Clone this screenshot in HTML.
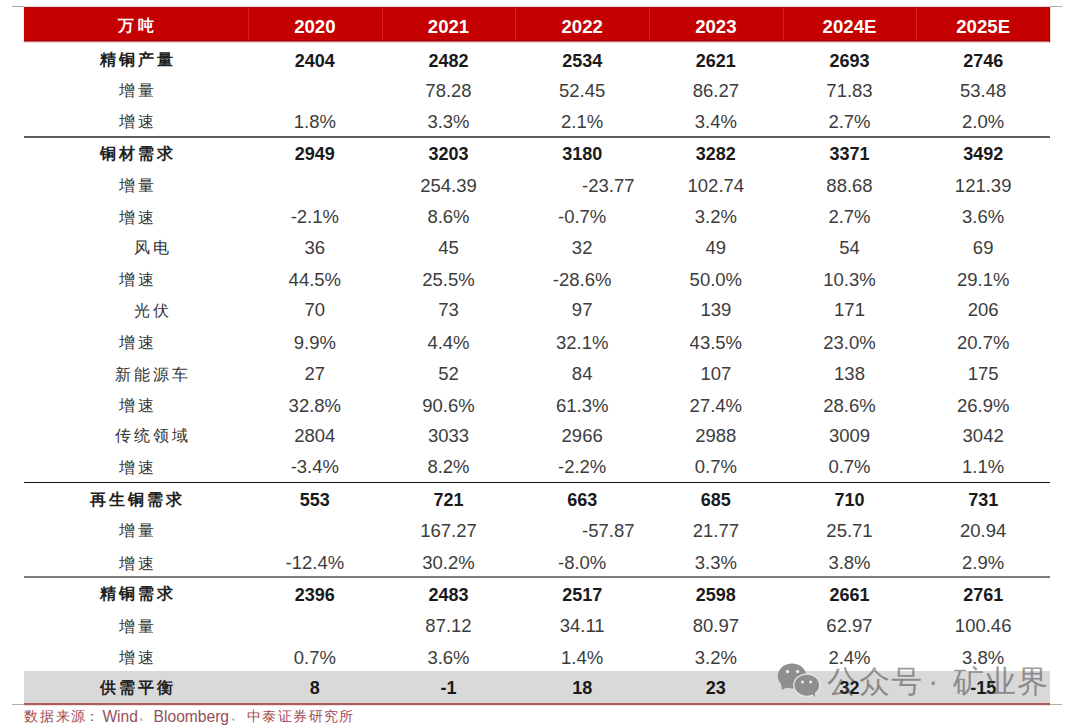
<!DOCTYPE html>
<html><head><meta charset="utf-8"><style>
html,body{margin:0;padding:0;background:#fff;width:1080px;height:725px;overflow:hidden;position:relative}
.t{position:absolute;font-family:"Liberation Sans",sans-serif;white-space:nowrap;line-height:24px;height:24px}
.hn{color:#fff;font-weight:bold;font-size:18.6px}
.hc{color:#fff;font-weight:bold;font-size:16px;letter-spacing:4px}
.nb{color:#1a1a1a;font-weight:bold;font-size:18px}
.nr{color:#3c3c3c;font-size:18.5px}
.cb{color:#222;font-weight:bold;font-size:16px;letter-spacing:3px}
.cr{color:#333;font-size:16px;letter-spacing:3px}
.fnc{color:#a04a52;font-size:14px;letter-spacing:1.8px;line-height:20px;height:20px}
.fnc2{color:#a04a52;font-size:14px;letter-spacing:1.4px;line-height:20px;height:20px}
.fnl{color:#94505a;font-size:15.6px;line-height:20px;height:20px}
.wmt{color:rgba(60,60,60,0.5);font-size:31px;font-weight:300;letter-spacing:1px;line-height:36px;height:36px}
</style></head><body>
<div style="position:absolute;left:12px;top:6px;width:12px;height:1px;background:#a8a8a8;"></div>
<div style="position:absolute;left:1050px;top:6px;width:12px;height:1px;background:#a8a8a8;"></div>
<div style="position:absolute;left:24px;top:6px;width:1026px;height:1px;background:#f0dada;"></div>
<div style="position:absolute;left:24px;top:7px;width:1026px;height:35px;background:#c40000;"></div>
<div style="position:absolute;left:24px;top:7px;width:1026px;height:1px;background:#a8101a;"></div>
<div style="position:absolute;left:24px;top:40px;width:1026px;height:1px;background:#a80008;"></div>
<div style="position:absolute;left:24px;top:41px;width:1026px;height:1px;background:#c86060;"></div>
<div style="position:absolute;left:24px;top:42px;width:1026px;height:1px;background:#f5dcdc;"></div>
<div style="position:absolute;left:1049px;top:7px;width:1px;height:35px;background:#a8000a;"></div>
<div style="position:absolute;left:1050px;top:7px;width:1px;height:36px;background:#f3d6d6;"></div>
<div style="position:absolute;left:23px;top:7px;width:1px;height:36px;background:#f8e6e6;"></div>
<div style="position:absolute;left:248px;top:8px;width:1px;height:32px;background:#e01c1c;"></div>
<div style="position:absolute;left:382px;top:8px;width:1px;height:32px;background:#e01c1c;"></div>
<div style="position:absolute;left:515px;top:8px;width:1px;height:32px;background:#e01c1c;"></div>
<div style="position:absolute;left:649px;top:8px;width:1px;height:32px;background:#e01c1c;"></div>
<div style="position:absolute;left:783px;top:8px;width:1px;height:32px;background:#e01c1c;"></div>
<div style="position:absolute;left:916px;top:8px;width:1px;height:32px;background:#e01c1c;"></div>
<div style="position:absolute;left:24px;top:671px;width:1026px;height:31px;background:#d9d9d9;"></div>
<div style="position:absolute;left:24px;top:702px;width:1026px;height:1px;background:#e6d0d0;"></div>
<div style="position:absolute;left:24px;top:136px;width:1026px;height:2px;background:#5e5e5e;"></div>
<div style="position:absolute;left:24px;top:482px;width:1026px;height:1px;background:#111;"></div>
<div style="position:absolute;left:24px;top:576px;width:1026px;height:2px;background:#7a7a7a;"></div>
<div style="position:absolute;left:12px;top:704px;width:1050px;height:1px;background:#b0b0b0;"></div>
<div style="position:absolute;left:24px;top:703px;width:1026px;height:2px;background:#a85e5e;"></div>
<div style="position:absolute;left:24px;top:705px;width:1026px;height:1px;background:#f3dcdc;"></div>
<div class="t hc" style="left:37.50px;top:13.50px;width:200px;text-align:center">万吨</div>
<div class="t hn" style="left:214.84px;top:14.50px;width:200px;text-align:center">2020</div>
<div class="t hn" style="left:348.50px;top:14.50px;width:200px;text-align:center">2021</div>
<div class="t hn" style="left:482.16px;top:14.50px;width:200px;text-align:center">2022</div>
<div class="t hn" style="left:615.84px;top:14.50px;width:200px;text-align:center">2023</div>
<div class="t hn" style="left:749.50px;top:14.50px;width:200px;text-align:center">2024E</div>
<div class="t hn" style="left:883.16px;top:14.50px;width:200px;text-align:center">2025E</div>
<div class="t cb" style="left:37.50px;top:48.00px;width:200px;text-align:center">精铜产量</div>
<div class="t nb" style="left:214.84px;top:48.50px;width:200px;text-align:center">2404</div>
<div class="t nb" style="left:348.50px;top:48.50px;width:200px;text-align:center">2482</div>
<div class="t nb" style="left:482.16px;top:48.50px;width:200px;text-align:center">2534</div>
<div class="t nb" style="left:615.84px;top:48.50px;width:200px;text-align:center">2621</div>
<div class="t nb" style="left:749.50px;top:48.50px;width:200px;text-align:center">2693</div>
<div class="t nb" style="left:883.16px;top:48.50px;width:200px;text-align:center">2746</div>
<div class="t cr" style="left:37.50px;top:79.00px;width:200px;text-align:center">增量</div>
<div class="t nr" style="left:348.50px;top:78.50px;width:200px;text-align:center">78.28</div>
<div class="t nr" style="left:482.16px;top:78.50px;width:200px;text-align:center">52.45</div>
<div class="t nr" style="left:615.84px;top:78.50px;width:200px;text-align:center">86.27</div>
<div class="t nr" style="left:749.50px;top:78.50px;width:200px;text-align:center">71.83</div>
<div class="t nr" style="left:883.16px;top:78.50px;width:200px;text-align:center">53.48</div>
<div class="t cr" style="left:37.50px;top:110.40px;width:200px;text-align:center">增速</div>
<div class="t nr" style="left:214.84px;top:109.90px;width:200px;text-align:center">1.8%</div>
<div class="t nr" style="left:348.50px;top:109.90px;width:200px;text-align:center">3.3%</div>
<div class="t nr" style="left:482.16px;top:109.90px;width:200px;text-align:center">2.1%</div>
<div class="t nr" style="left:615.84px;top:109.90px;width:200px;text-align:center">3.4%</div>
<div class="t nr" style="left:749.50px;top:109.90px;width:200px;text-align:center">2.7%</div>
<div class="t nr" style="left:883.16px;top:109.90px;width:200px;text-align:center">2.0%</div>
<div class="t cb" style="left:37.50px;top:141.60px;width:200px;text-align:center">铜材需求</div>
<div class="t nb" style="left:214.84px;top:142.10px;width:200px;text-align:center">2949</div>
<div class="t nb" style="left:348.50px;top:142.10px;width:200px;text-align:center">3203</div>
<div class="t nb" style="left:482.16px;top:142.10px;width:200px;text-align:center">3180</div>
<div class="t nb" style="left:615.84px;top:142.10px;width:200px;text-align:center">3282</div>
<div class="t nb" style="left:749.50px;top:142.10px;width:200px;text-align:center">3371</div>
<div class="t nb" style="left:883.16px;top:142.10px;width:200px;text-align:center">3492</div>
<div class="t cr" style="left:37.50px;top:174.10px;width:200px;text-align:center">增量</div>
<div class="t nr" style="left:348.50px;top:173.60px;width:200px;text-align:center">254.39</div>
<div class="t nr" style="left:582.00px;top:173.60px;">-23.77</div>
<div class="t nr" style="left:615.84px;top:173.60px;width:200px;text-align:center">102.74</div>
<div class="t nr" style="left:749.50px;top:173.60px;width:200px;text-align:center">88.68</div>
<div class="t nr" style="left:883.16px;top:173.60px;width:200px;text-align:center">121.39</div>
<div class="t cr" style="left:37.50px;top:205.60px;width:200px;text-align:center">增速</div>
<div class="t nr" style="left:214.84px;top:205.10px;width:200px;text-align:center">-2.1%</div>
<div class="t nr" style="left:348.50px;top:205.10px;width:200px;text-align:center">8.6%</div>
<div class="t nr" style="left:482.16px;top:205.10px;width:200px;text-align:center">-0.7%</div>
<div class="t nr" style="left:615.84px;top:205.10px;width:200px;text-align:center">3.2%</div>
<div class="t nr" style="left:749.50px;top:205.10px;width:200px;text-align:center">2.7%</div>
<div class="t nr" style="left:883.16px;top:205.10px;width:200px;text-align:center">3.6%</div>
<div class="t cr" style="left:52.50px;top:236.30px;width:200px;text-align:center">风电</div>
<div class="t nr" style="left:214.84px;top:235.80px;width:200px;text-align:center">36</div>
<div class="t nr" style="left:348.50px;top:235.80px;width:200px;text-align:center">45</div>
<div class="t nr" style="left:482.16px;top:235.80px;width:200px;text-align:center">32</div>
<div class="t nr" style="left:615.84px;top:235.80px;width:200px;text-align:center">49</div>
<div class="t nr" style="left:749.50px;top:235.80px;width:200px;text-align:center">54</div>
<div class="t nr" style="left:883.16px;top:235.80px;width:200px;text-align:center">69</div>
<div class="t cr" style="left:37.50px;top:268.00px;width:200px;text-align:center">增速</div>
<div class="t nr" style="left:214.84px;top:267.50px;width:200px;text-align:center">44.5%</div>
<div class="t nr" style="left:348.50px;top:267.50px;width:200px;text-align:center">25.5%</div>
<div class="t nr" style="left:482.16px;top:267.50px;width:200px;text-align:center">-28.6%</div>
<div class="t nr" style="left:615.84px;top:267.50px;width:200px;text-align:center">50.0%</div>
<div class="t nr" style="left:749.50px;top:267.50px;width:200px;text-align:center">10.3%</div>
<div class="t nr" style="left:883.16px;top:267.50px;width:200px;text-align:center">29.1%</div>
<div class="t cr" style="left:52.50px;top:298.80px;width:200px;text-align:center">光伏</div>
<div class="t nr" style="left:214.84px;top:298.30px;width:200px;text-align:center">70</div>
<div class="t nr" style="left:348.50px;top:298.30px;width:200px;text-align:center">73</div>
<div class="t nr" style="left:482.16px;top:298.30px;width:200px;text-align:center">97</div>
<div class="t nr" style="left:615.84px;top:298.30px;width:200px;text-align:center">139</div>
<div class="t nr" style="left:749.50px;top:298.30px;width:200px;text-align:center">171</div>
<div class="t nr" style="left:883.16px;top:298.30px;width:200px;text-align:center">206</div>
<div class="t cr" style="left:37.50px;top:331.30px;width:200px;text-align:center">增速</div>
<div class="t nr" style="left:214.84px;top:330.80px;width:200px;text-align:center">9.9%</div>
<div class="t nr" style="left:348.50px;top:330.80px;width:200px;text-align:center">4.4%</div>
<div class="t nr" style="left:482.16px;top:330.80px;width:200px;text-align:center">32.1%</div>
<div class="t nr" style="left:615.84px;top:330.80px;width:200px;text-align:center">43.5%</div>
<div class="t nr" style="left:749.50px;top:330.80px;width:200px;text-align:center">23.0%</div>
<div class="t nr" style="left:883.16px;top:330.80px;width:200px;text-align:center">20.7%</div>
<div class="t cr" style="left:52.50px;top:362.50px;width:200px;text-align:center">新能源车</div>
<div class="t nr" style="left:214.84px;top:362.00px;width:200px;text-align:center">27</div>
<div class="t nr" style="left:348.50px;top:362.00px;width:200px;text-align:center">52</div>
<div class="t nr" style="left:482.16px;top:362.00px;width:200px;text-align:center">84</div>
<div class="t nr" style="left:615.84px;top:362.00px;width:200px;text-align:center">107</div>
<div class="t nr" style="left:749.50px;top:362.00px;width:200px;text-align:center">138</div>
<div class="t nr" style="left:883.16px;top:362.00px;width:200px;text-align:center">175</div>
<div class="t cr" style="left:37.50px;top:394.10px;width:200px;text-align:center">增速</div>
<div class="t nr" style="left:214.84px;top:393.60px;width:200px;text-align:center">32.8%</div>
<div class="t nr" style="left:348.50px;top:393.60px;width:200px;text-align:center">90.6%</div>
<div class="t nr" style="left:482.16px;top:393.60px;width:200px;text-align:center">61.3%</div>
<div class="t nr" style="left:615.84px;top:393.60px;width:200px;text-align:center">27.4%</div>
<div class="t nr" style="left:749.50px;top:393.60px;width:200px;text-align:center">28.6%</div>
<div class="t nr" style="left:883.16px;top:393.60px;width:200px;text-align:center">26.9%</div>
<div class="t cr" style="left:52.50px;top:424.00px;width:200px;text-align:center">传统领域</div>
<div class="t nr" style="left:214.84px;top:423.50px;width:200px;text-align:center">2804</div>
<div class="t nr" style="left:348.50px;top:423.50px;width:200px;text-align:center">3033</div>
<div class="t nr" style="left:482.16px;top:423.50px;width:200px;text-align:center">2966</div>
<div class="t nr" style="left:615.84px;top:423.50px;width:200px;text-align:center">2988</div>
<div class="t nr" style="left:749.50px;top:423.50px;width:200px;text-align:center">3009</div>
<div class="t nr" style="left:883.16px;top:423.50px;width:200px;text-align:center">3042</div>
<div class="t cr" style="left:37.50px;top:455.80px;width:200px;text-align:center">增速</div>
<div class="t nr" style="left:214.84px;top:455.30px;width:200px;text-align:center">-3.4%</div>
<div class="t nr" style="left:348.50px;top:455.30px;width:200px;text-align:center">8.2%</div>
<div class="t nr" style="left:482.16px;top:455.30px;width:200px;text-align:center">-2.2%</div>
<div class="t nr" style="left:615.84px;top:455.30px;width:200px;text-align:center">0.7%</div>
<div class="t nr" style="left:749.50px;top:455.30px;width:200px;text-align:center">0.7%</div>
<div class="t nr" style="left:883.16px;top:455.30px;width:200px;text-align:center">1.1%</div>
<div class="t cb" style="left:37.50px;top:487.70px;width:200px;text-align:center">再生铜需求</div>
<div class="t nb" style="left:214.84px;top:488.20px;width:200px;text-align:center">553</div>
<div class="t nb" style="left:348.50px;top:488.20px;width:200px;text-align:center">721</div>
<div class="t nb" style="left:482.16px;top:488.20px;width:200px;text-align:center">663</div>
<div class="t nb" style="left:615.84px;top:488.20px;width:200px;text-align:center">685</div>
<div class="t nb" style="left:749.50px;top:488.20px;width:200px;text-align:center">710</div>
<div class="t nb" style="left:883.16px;top:488.20px;width:200px;text-align:center">731</div>
<div class="t cr" style="left:37.50px;top:519.40px;width:200px;text-align:center">增量</div>
<div class="t nr" style="left:348.50px;top:518.90px;width:200px;text-align:center">167.27</div>
<div class="t nr" style="left:582.00px;top:518.90px;">-57.87</div>
<div class="t nr" style="left:615.84px;top:518.90px;width:200px;text-align:center">21.77</div>
<div class="t nr" style="left:749.50px;top:518.90px;width:200px;text-align:center">25.71</div>
<div class="t nr" style="left:883.16px;top:518.90px;width:200px;text-align:center">20.94</div>
<div class="t cr" style="left:37.50px;top:551.50px;width:200px;text-align:center">增速</div>
<div class="t nr" style="left:214.84px;top:551.00px;width:200px;text-align:center">-12.4%</div>
<div class="t nr" style="left:348.50px;top:551.00px;width:200px;text-align:center">30.2%</div>
<div class="t nr" style="left:482.16px;top:551.00px;width:200px;text-align:center">-8.0%</div>
<div class="t nr" style="left:615.84px;top:551.00px;width:200px;text-align:center">3.3%</div>
<div class="t nr" style="left:749.50px;top:551.00px;width:200px;text-align:center">3.8%</div>
<div class="t nr" style="left:883.16px;top:551.00px;width:200px;text-align:center">2.9%</div>
<div class="t cb" style="left:37.50px;top:582.40px;width:200px;text-align:center">精铜需求</div>
<div class="t nb" style="left:214.84px;top:582.90px;width:200px;text-align:center">2396</div>
<div class="t nb" style="left:348.50px;top:582.90px;width:200px;text-align:center">2483</div>
<div class="t nb" style="left:482.16px;top:582.90px;width:200px;text-align:center">2517</div>
<div class="t nb" style="left:615.84px;top:582.90px;width:200px;text-align:center">2598</div>
<div class="t nb" style="left:749.50px;top:582.90px;width:200px;text-align:center">2661</div>
<div class="t nb" style="left:883.16px;top:582.90px;width:200px;text-align:center">2761</div>
<div class="t cr" style="left:37.50px;top:614.75px;width:200px;text-align:center">增量</div>
<div class="t nr" style="left:348.50px;top:614.25px;width:200px;text-align:center">87.12</div>
<div class="t nr" style="left:482.16px;top:614.25px;width:200px;text-align:center">34.11</div>
<div class="t nr" style="left:615.84px;top:614.25px;width:200px;text-align:center">80.97</div>
<div class="t nr" style="left:749.50px;top:614.25px;width:200px;text-align:center">62.97</div>
<div class="t nr" style="left:883.16px;top:614.25px;width:200px;text-align:center">100.46</div>
<div class="t cr" style="left:37.50px;top:646.10px;width:200px;text-align:center">增速</div>
<div class="t nr" style="left:214.84px;top:645.60px;width:200px;text-align:center">0.7%</div>
<div class="t nr" style="left:348.50px;top:645.60px;width:200px;text-align:center">3.6%</div>
<div class="t nr" style="left:482.16px;top:645.60px;width:200px;text-align:center">1.4%</div>
<div class="t nr" style="left:615.84px;top:645.60px;width:200px;text-align:center">3.2%</div>
<div class="t nr" style="left:749.50px;top:645.60px;width:200px;text-align:center">2.4%</div>
<div class="t nr" style="left:883.16px;top:645.60px;width:200px;text-align:center">3.8%</div>
<div class="t cb" style="left:37.50px;top:675.80px;width:200px;text-align:center">供需平衡</div>
<div class="t nb" style="left:214.84px;top:676.30px;width:200px;text-align:center">8</div>
<div class="t nb" style="left:348.50px;top:676.30px;width:200px;text-align:center">-1</div>
<div class="t nb" style="left:482.16px;top:676.30px;width:200px;text-align:center">18</div>
<div class="t nb" style="left:615.84px;top:676.30px;width:200px;text-align:center">23</div>
<div class="t nb" style="left:749.50px;top:676.30px;width:200px;text-align:center">32</div>
<div class="t nb" style="left:883.16px;top:676.30px;width:200px;text-align:center">-15</div>
<div class="t fnc" style="left:24px;top:705.5px;">数据来源</div>
<div class="t fnc" style="left:85px;top:705.5px;">：</div>
<div class="t fnl" style="left:102.4px;top:706.5px;">Wind</div>
<div class="t fnc" style="left:138px;top:703.5px;">、</div>
<div class="t fnl" style="left:153.6px;top:706.5px;">Bloomberg</div>
<div class="t fnc" style="left:229.5px;top:703.5px;">、</div>
<div class="t fnc2" style="left:247px;top:705.5px;">中泰证券研究所</div>
<div style="position:absolute;left:0;top:0;width:1080px;height:725px;pointer-events:none">
<svg width="1080" height="725" style="position:absolute;left:0;top:0">
<g fill="#8e8e8e">
<ellipse cx="792" cy="676" rx="14.2" ry="12.4"/>
<path d="M781 684 L782 690 L789 686 Z"/>
<ellipse cx="806.8" cy="685.2" rx="13.6" ry="11.8" fill="#e6e6e6"/>
<ellipse cx="806.8" cy="685.2" rx="12.3" ry="10.5"/>
<path d="M811 693 L815 697 L815 690 Z"/>
</g>
<g fill="#f0f0f0">
<circle cx="787.6" cy="671.6" r="1.7"/><circle cx="797.6" cy="671.6" r="1.7"/>
<circle cx="802.4" cy="681.9" r="1.5"/><circle cx="810.7" cy="681.9" r="1.5"/>
</g>
</svg>
<div class="t wmt" style="left:827px;top:664px;">公众号</div>
<div class="t wmt" style="left:928px;top:664px;">·</div>
<div class="t wmt" style="left:953px;top:664px;">矿业界</div>
</div>
</body></html>
